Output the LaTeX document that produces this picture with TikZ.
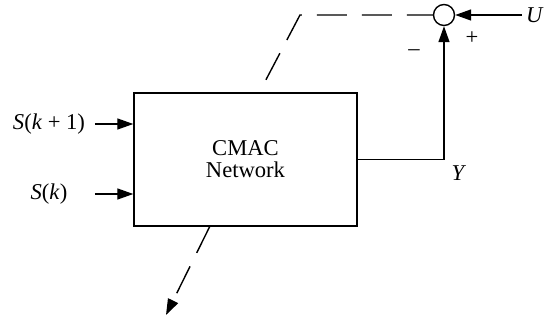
\documentclass[tikz,border=0pt]{standalone}
\usepackage{fontspec}
\setmainfont{Liberation Serif}
\usetikzlibrary{arrows.meta}

\begin{document}
\begin{tikzpicture}[
    x=0.5pt, y=-0.5pt,
    line width=0.7pt,
    >={Triangle[length=8pt,width=5.5pt]},
    every node/.style={font=\fontsize{11.3}{11}\selectfont},
    block/.style={draw, fill=white, minimum width=111.5pt, minimum height=66.5pt,
      align=center, inner sep=0pt},
    sum/.style={draw, circle, minimum size=10.5pt, inner sep=0pt},
    adapt/.style={dash pattern=on 15pt off 7.5pt}
  ]
  \useasboundingbox (0,0) rectangle (559,320);

  % network and summing point
  \node [block] (net) at (245.5,159.5) {CMAC\\Network};
  \node [sum] (sum) at (444,15) {};

  % labels
  \node (sk1) at (49,124) {\textit{S}(\textit{k} + 1)};
  \node (sk) at (49,194) {\textit{S}(\textit{k})};
  \node (u) at (535,15) {\textit{U}};
  \node (y) at (459,173) {\textit{Y}};
  \node (minus) at (414,53) {–};
  \node (plus) at (472,38) {+};

  % free ends
  \coordinate (in1) at (95,124);
  \coordinate (in2) at (95,194);
  \coordinate (uin) at (522,15);
  \coordinate (corner) at (300,15);
  \coordinate (top) at (259,93);
  \coordinate (bot) at (210,226);
  \coordinate (tip) at (166,315);

  % inputs
  \draw [->] (in1) -- (in1 -| net.west);
  \draw [->] (in2) -- (in2 -| net.west);

  % output and reference
  \draw [->] (net.east) -| (sum.south);
  \draw [->] (uin) -- (sum.east);

  % weight adaptation
  \draw [adapt, dash phase=2pt] (sum.west) -- (corner) -- (top);
  \draw [adapt, ->] (bot) -- (tip);
\end{tikzpicture}
\end{document}
